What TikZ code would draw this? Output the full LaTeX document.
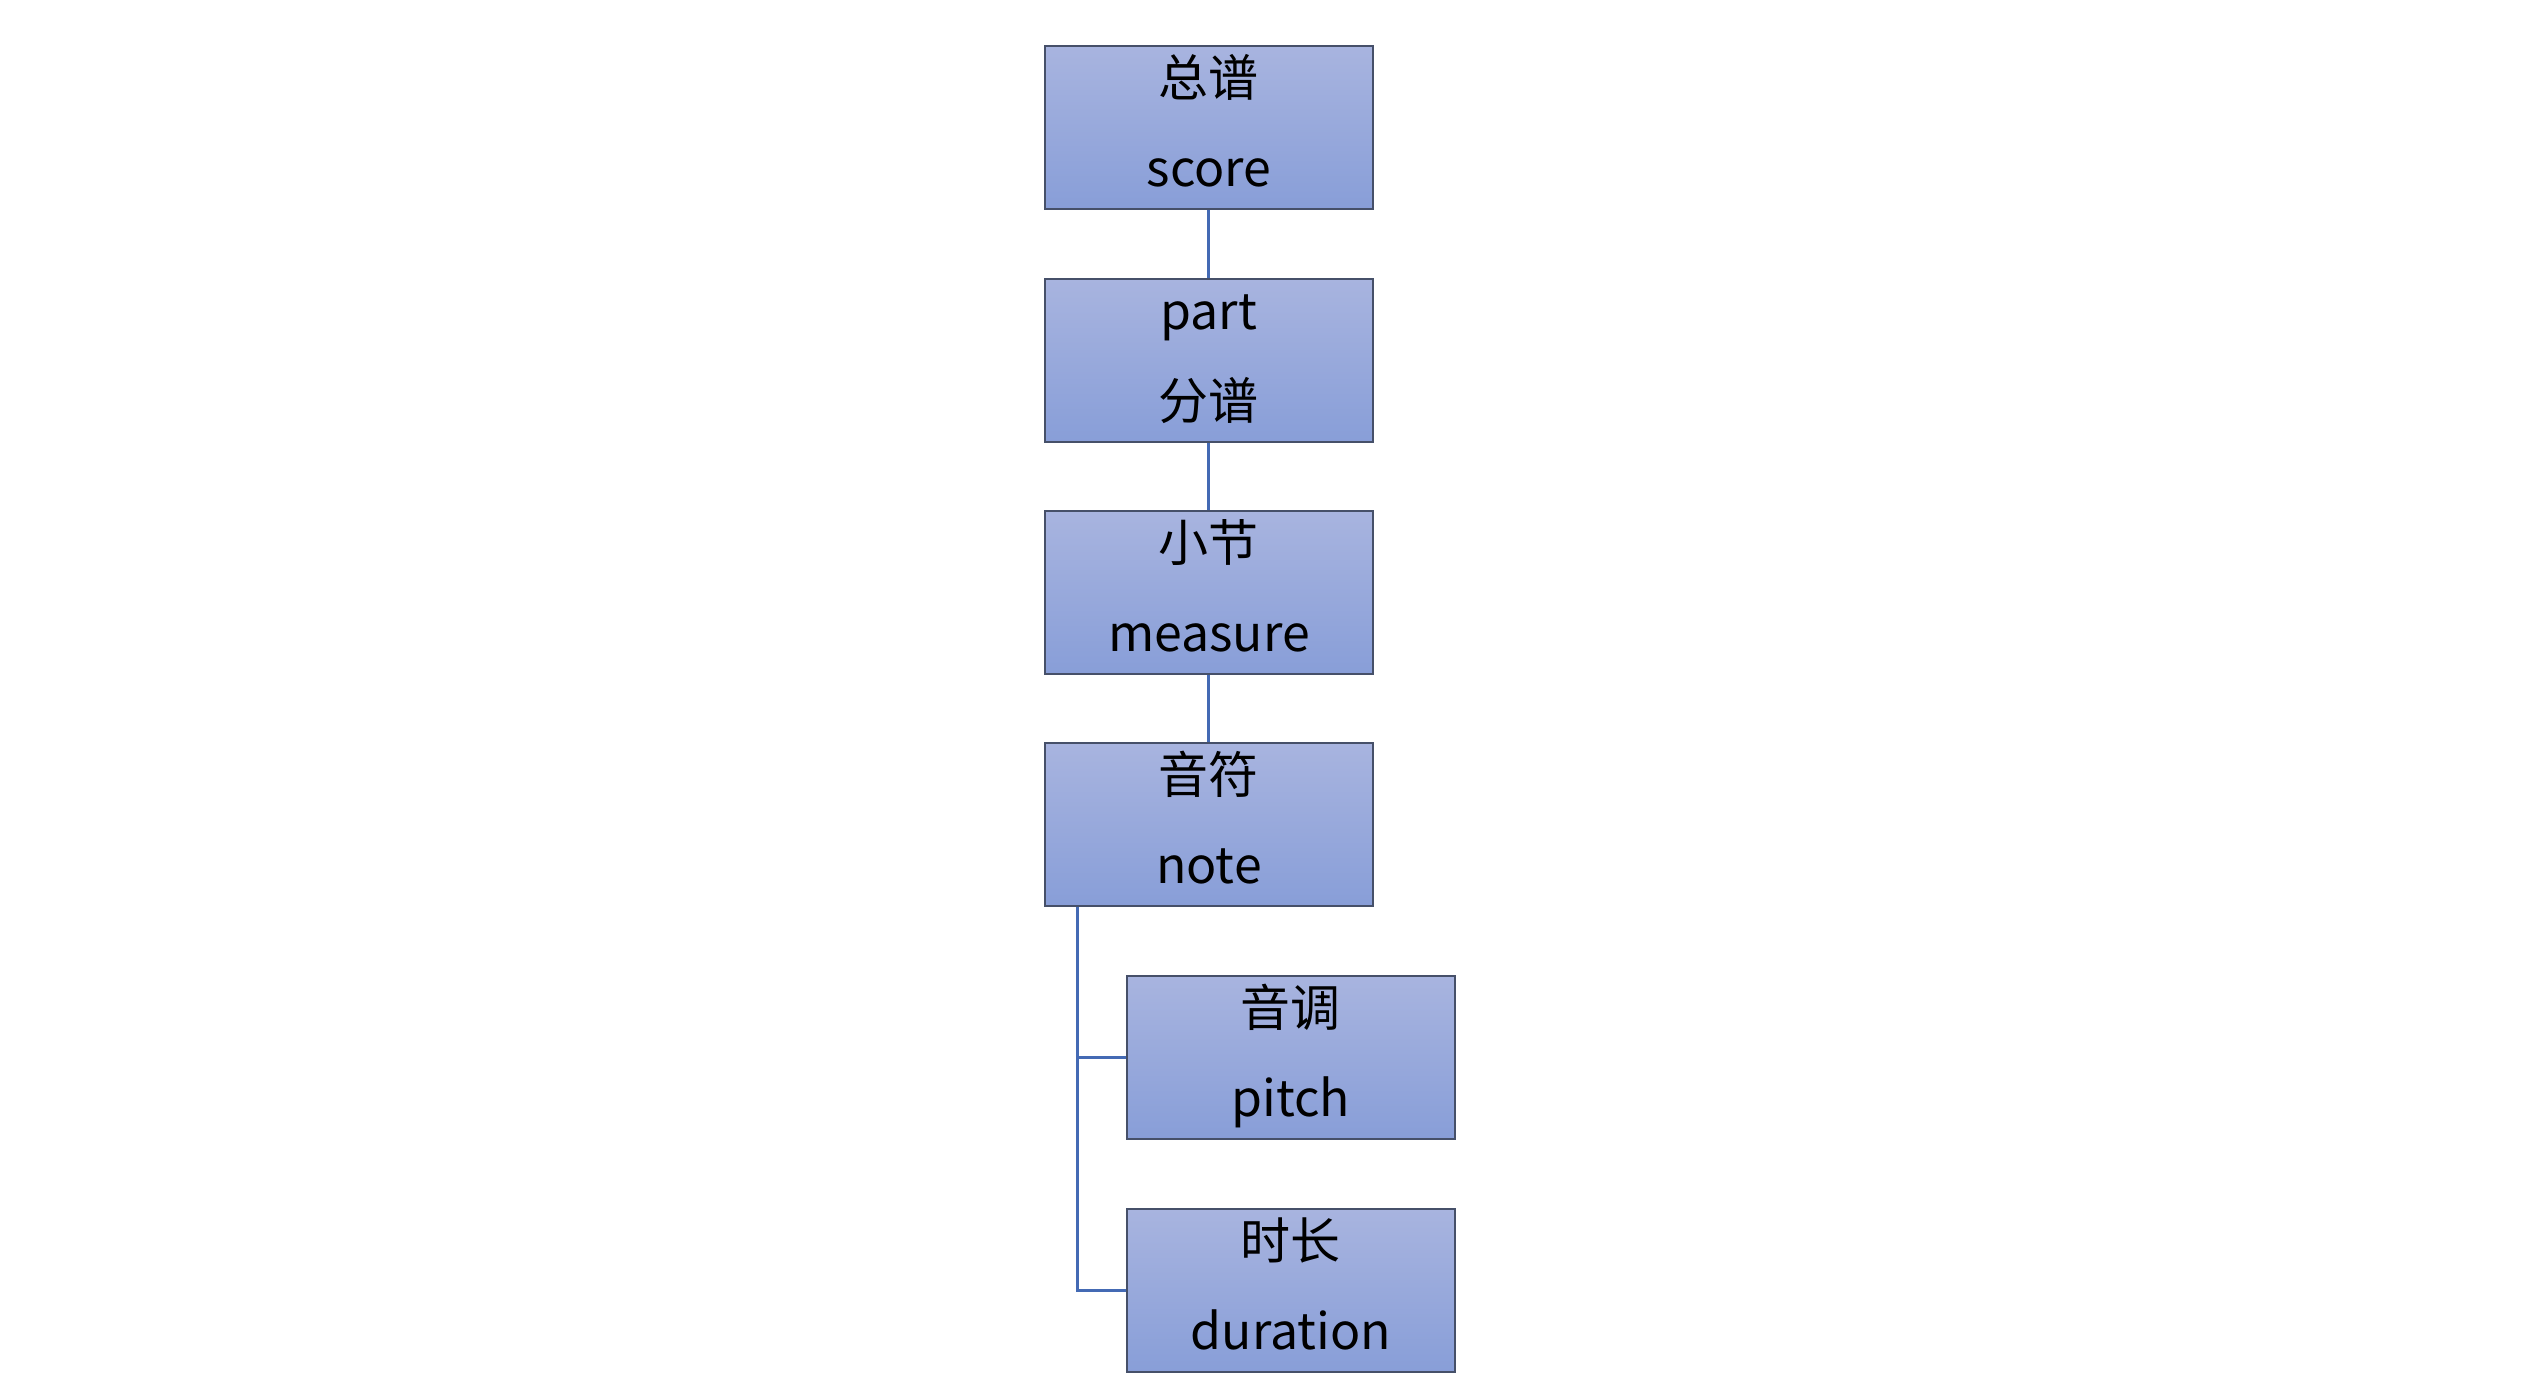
\documentclass[tikz,border=0pt]{standalone}
\usepackage{fontspec}
\setmainfont{Noto Sans CJK SC}
\newcommand{\twoline}[2]{\raisebox{-2.5pt}[0pt][0pt]{\begin{tabular}{@{}c@{}}#1\\#2\end{tabular}}}
\begin{document}
\begin{tikzpicture}[x=1pt,y=-1pt]
\definecolor{boxtop}{RGB}{168,180,223}
\definecolor{boxbot}{RGB}{136,158,216}
\definecolor{boxline}{RGB}{70,80,105}
\definecolor{conn}{RGB}{68,106,180}
\tikzset{
  box/.style={draw=boxline, line width=1.8pt, top color=boxtop, bottom color=boxbot,
    minimum width=328pt, minimum height=163pt, inner sep=0pt, anchor=north west,
    font=\fontsize{50}{90}\selectfont},
  link/.style={draw=conn, line width=3pt}
}
\useasboundingbox (0,0) rectangle (2545,1399);
\fill[white] (0,0) rectangle (2545,1399);
\node[box] (score) at (1044,45) {\twoline{总谱}{score}};
\node[box] (part) at (1044,278) {\twoline{part}{分谱}};
\node[box] (measure) at (1044,510) {\twoline{小节}{measure}};
\node[box] (note) at (1044,742) {\twoline{音符}{note}};
\node[box] (pitch) at (1126,975) {\twoline{音调}{pitch}};
\node[box] (duration) at (1126,1208) {\twoline{时长}{duration}};
\draw[link] (score.south) -- (part.north);
\draw[link] (part.south) -- (measure.north);
\draw[link] (measure.south) -- (note.north);
\coordinate (trunk) at ([xshift=33pt]note.south west);
\draw[link] (trunk) |- (pitch.west);
\draw[link] (trunk) |- (duration.west);
\end{tikzpicture}
\end{document}
